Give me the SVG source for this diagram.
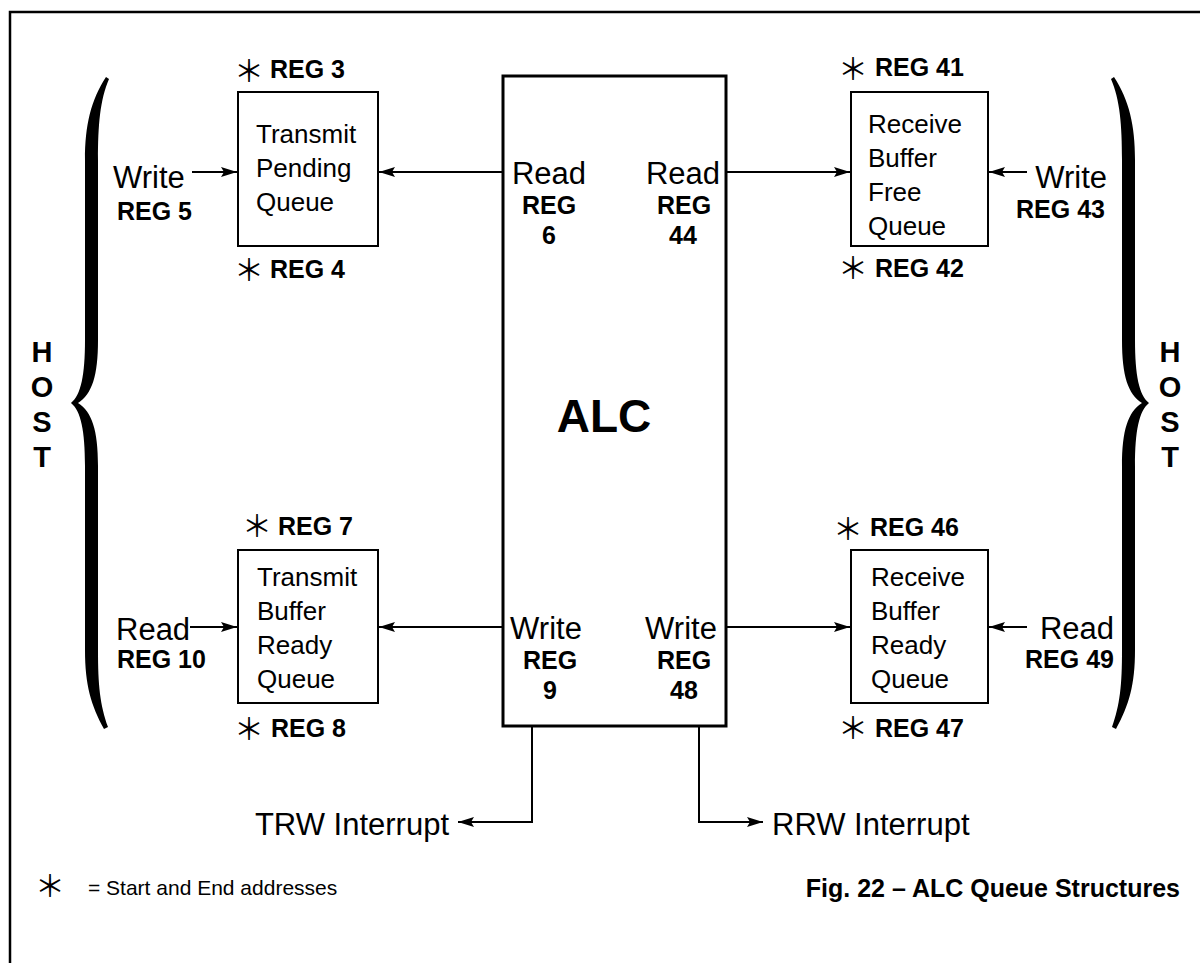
<svg xmlns="http://www.w3.org/2000/svg" width="1200" height="963" viewBox="0 0 1200 963">
<style>
text{font-family:"Liberation Sans",Arial,sans-serif;fill:#000}
.q{font-size:26px}
.lbl{font-size:31px}
.b{font-weight:bold;font-size:25px}
.m{text-anchor:middle}
.e{text-anchor:end}
.host{font-weight:bold;font-size:29px;text-anchor:middle}
.ast{font-family:"Noto Sans CJK JP","DejaVu Sans",sans-serif;font-size:30px;text-anchor:middle}
.box{fill:#fff;stroke:#000;stroke-width:2}
.alc{fill:#fff;stroke:#000;stroke-width:3}
.conn{fill:none;stroke:#000;stroke-width:2}
.arr{marker-end:url(#ah)}
</style>
<defs>
<marker id="ah" markerUnits="userSpaceOnUse" markerWidth="18" markerHeight="12" refX="16" refY="5" orient="auto"><path d="M0,0 L16,5 L0,10 L3,5 z" fill="#000"/></marker>
<path id="brace" d="M106,77 C91,100 85,125 85,160 L85,340 C85,375 81,395 71,403 C81,411 85,431 85,466 L85,650 C85,685 91,705 104,729 L108,727 C100,705 98,685 98,650 L98,466 C98,430 92,412 78,403 C92,394 98,376 98,340 L98,160 C98,125 100,100 109,79 Z" fill="#000"/>
</defs>
<rect width="1200" height="963" fill="#fff"/>
<path d="M10,963 V12 H1200" fill="none" stroke="#000" stroke-width="2.5"/>

<g id="host-left">
<use href="#brace"/>
<text class="host" x="42" y="362">H</text>
<text class="host" x="42" y="397">O</text>
<text class="host" x="42" y="432">S</text>
<text class="host" x="42" y="467">T</text>
</g>
<g id="host-right">
<use href="#brace" transform="translate(1220,0) scale(-1,1)"/>
<text class="host" x="1170" y="362">H</text>
<text class="host" x="1170" y="397">O</text>
<text class="host" x="1170" y="432">S</text>
<text class="host" x="1170" y="467">T</text>
</g>

<g id="alc">
<rect class="alc" x="503" y="76" width="223" height="650"/>
<text x="604" y="432" class="m" style="font-weight:bold;font-size:46px">ALC</text>
<text class="lbl m" x="549" y="184">Read</text>
<text class="b m" x="549" y="214">REG</text>
<text class="b m" x="549" y="244">6</text>
<text class="lbl m" x="683" y="184">Read</text>
<text class="b m" x="684" y="214">REG</text>
<text class="b m" x="683" y="244">44</text>
<text class="lbl m" x="546" y="639">Write</text>
<text class="b m" x="550" y="669">REG</text>
<text class="b m" x="550" y="699">9</text>
<text class="lbl m" x="681" y="639">Write</text>
<text class="b m" x="684" y="669">REG</text>
<text class="b m" x="684" y="699">48</text>
</g>

<g id="tpq">
<rect class="box" x="238" y="92" width="140" height="154"/>
<text class="q" x="256" y="143">Transmit</text>
<text class="q" x="256" y="177">Pending</text>
<text class="q" x="256" y="211">Queue</text>
<text class="ast" x="249" y="82">＊</text><text class="b" x="270" y="78">REG 3</text>
<text class="ast" x="249" y="281">＊</text><text class="b" x="270" y="278">REG 4</text>
<text class="lbl" x="113" y="188">Write</text>
<text class="b" x="117" y="220">REG 5</text>
</g>

<g id="rbfq">
<rect class="box" x="851" y="92" width="137" height="154"/>
<text class="q" x="868" y="133">Receive</text>
<text class="q" x="868" y="167">Buffer</text>
<text class="q" x="868" y="201">Free</text>
<text class="q" x="868" y="235">Queue</text>
<text class="ast" x="853" y="80">＊</text><text class="b" x="875" y="76">REG 41</text>
<text class="ast" x="853" y="279">＊</text><text class="b" x="875" y="277">REG 42</text>
<text class="lbl e" x="1107" y="188">Write</text>
<text class="b e" x="1105" y="218">REG 43</text>
</g>

<g id="tbrq">
<rect class="box" x="238" y="550" width="140" height="153"/>
<text class="q" x="257" y="586">Transmit</text>
<text class="q" x="257" y="620">Buffer</text>
<text class="q" x="257" y="654">Ready</text>
<text class="q" x="257" y="688">Queue</text>
<text class="ast" x="257" y="537">＊</text><text class="b" x="278" y="535">REG 7</text>
<text class="ast" x="249" y="740">＊</text><text class="b" x="271" y="737">REG 8</text>
<text class="lbl" x="116" y="640">Read</text>
<text class="b" x="117" y="668">REG 10</text>
</g>

<g id="rbrq">
<rect class="box" x="851" y="550" width="137" height="153"/>
<text class="q" x="871" y="586">Receive</text>
<text class="q" x="871" y="620">Buffer</text>
<text class="q" x="871" y="654">Ready</text>
<text class="q" x="871" y="688">Queue</text>
<text class="ast" x="848" y="540">＊</text><text class="b" x="870" y="536">REG 46</text>
<text class="ast" x="853" y="739">＊</text><text class="b" x="875" y="737">REG 47</text>
<text class="lbl e" x="1114" y="639">Read</text>
<text class="b e" x="1114" y="668">REG 49</text>
</g>

<g id="connectors">
<path class="conn arr" d="M192,172 H237"/>
<path class="conn arr" d="M503,172 H379"/>
<path class="conn arr" d="M726,172 H850"/>
<path class="conn arr" d="M1027,172 H989"/>
<path class="conn arr" d="M190,627 H237"/>
<path class="conn arr" d="M503,627 H379"/>
<path class="conn arr" d="M726,627 H850"/>
<path class="conn arr" d="M1027,627 H989"/>
<path class="conn arr" d="M532,727 V822 H458"/>
<path class="conn arr" d="M699,727 V822 H763"/>
</g>

<g id="interrupts">
<text class="lbl e" x="449" y="835">TRW Interrupt</text>
<text class="lbl" x="772" y="835">RRW Interrupt</text>
</g>

<g id="legend">
<text class="ast" x="50" y="897">＊</text>
<text x="88" y="895" style="font-size:21px">= Start and End addresses</text>
</g>
<g id="title">
<text x="1180" y="897" class="e" style="font-weight:bold;font-size:25px">Fig. 22 – ALC Queue Structures</text>
</g>
</svg>
